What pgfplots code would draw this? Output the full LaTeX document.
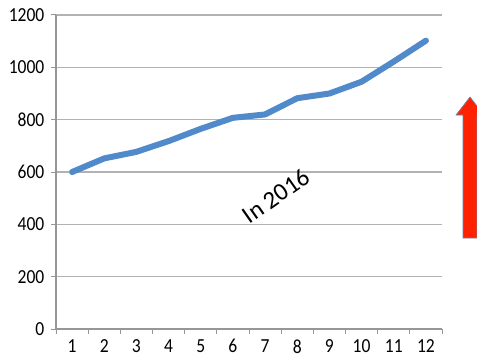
\documentclass[border=0pt]{standalone}
\usepackage{fontspec}
\setmainfont{Carlito}
\usepackage{pgfplots}
\pgfplotsset{compat=1.18}
\definecolor{lineblue}{RGB}{80,138,202}
\definecolor{gridgray}{RGB}{178,178,178}
\definecolor{axgray}{RGB}{150,150,150}
\definecolor{arrowred}{RGB}{255,34,0}
\definecolor{arrowedge}{RGB}{110,130,175}
\begin{document}
\begin{tikzpicture}[x=1bp,y=1bp]
\path[use as bounding box] (0,0) rectangle (477,362);
\begin{axis}[
  at={(56bp,33bp)}, anchor=south west,
  width=386bp, height=314bp, scale only axis,
  xmin=0.5, xmax=12.5, ymin=0, ymax=1200,
  ytick={0,200,...,1200},
  xtick={0.5,1.5,...,12.5}, xticklabels={},
  extra x ticks={1,...,12},
  extra x tick style={major tick length=0pt, xticklabel style={yshift=-7bp}},
  axis x line*=bottom, axis y line*=left,
  axis line style={axgray, line width=1.2bp, -},
  ymajorgrids, grid style={gridgray, line width=1.3bp},
  tick align=outside, major tick length=5bp,
  tick style={axgray, line width=1bp},
  tick label style={font=\fontsize{20}{20}\selectfont, xscale=0.88},
  yticklabel style={xshift=-4bp},
  /pgf/number format/assume math mode=true,
  /pgf/number format/1000 sep={},
  clip=false,
]
\addplot[lineblue, line width=6bp, line join=round, line cap=round] coordinates {
(1,600)(2,652)(3,677)(4,718)(5,765)(6,807)(7,820)(8,882)(9,900)(10,945)(11,1022)(12,1102)};
\node[rotate=35, font=\fontsize{25}{25}\selectfont] at (axis cs:7.34,508) {In 2016};
\end{axis}
\begin{scope}
\clip (0,0) rectangle (477,362);
\filldraw[fill=arrowred, draw=arrowedge, line width=0.6bp]
  (463,124) -- (463,247) -- (456,247) -- (470,265) -- (484,247) -- (477,247) -- (477,124) -- cycle;
\end{scope}
\end{tikzpicture}
\end{document}
